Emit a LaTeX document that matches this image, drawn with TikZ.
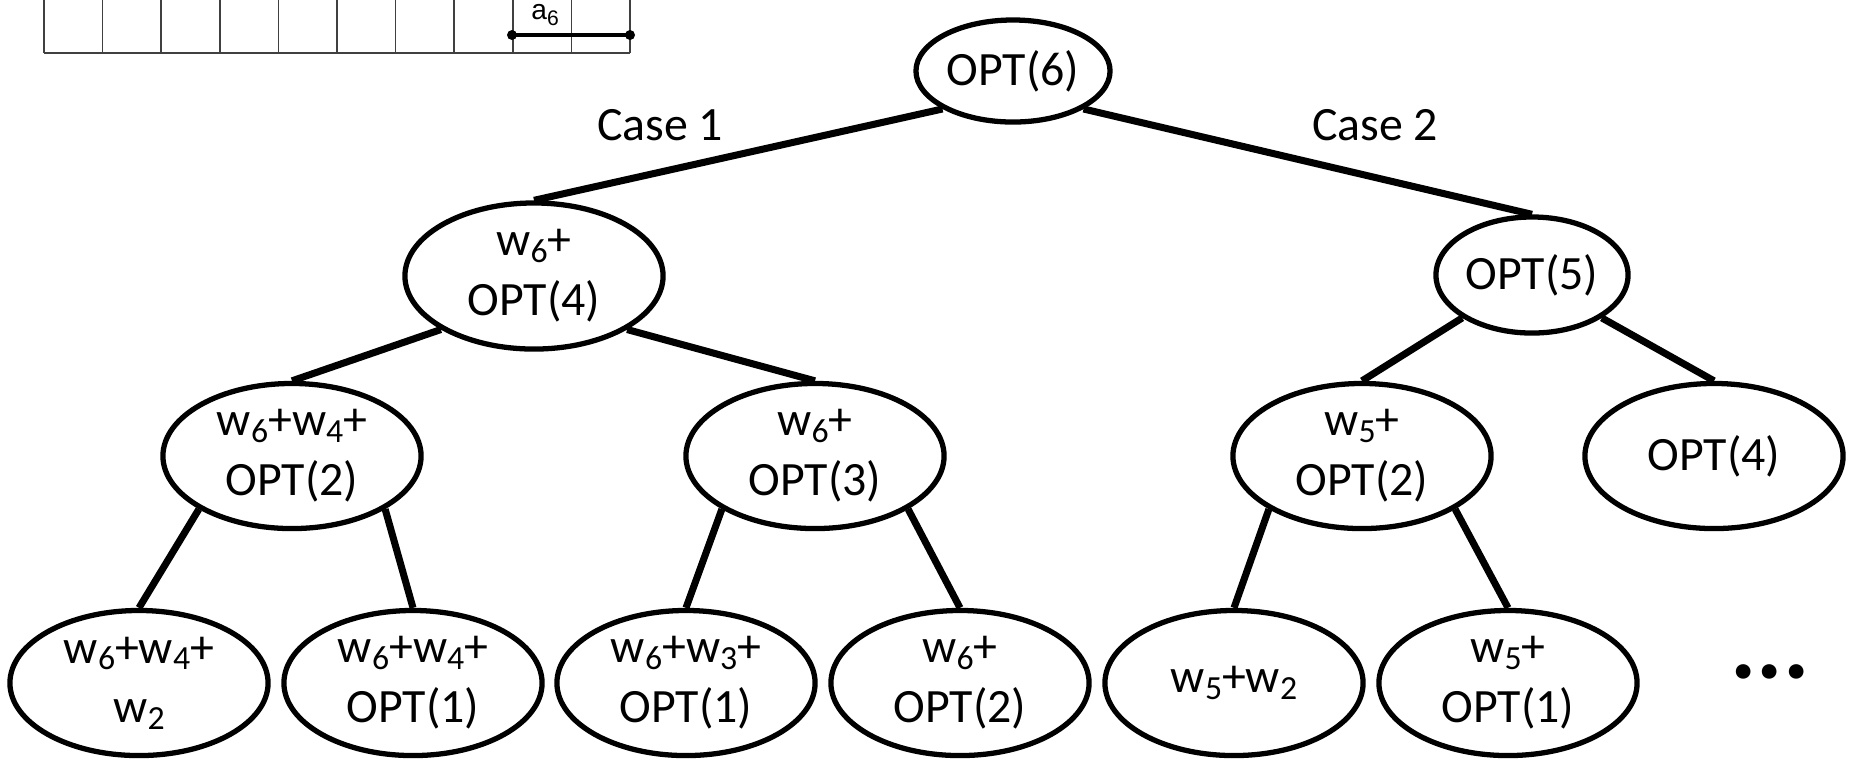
\documentclass[tikz,border=0pt]{standalone}
\usepackage{fontspec}
\setmainfont{Carlito}
\newfontfamily\arialfont{Liberation Sans}
\usetikzlibrary{shapes.geometric}
\newcommand{\sub}[1]{\raisebox{-0.28ex}{\fontsize{9.6}{9.6}\selectfont #1}}
\tikzset{
  opt/.style={draw, ellipse, line width=1.5pt, inner sep=0pt, minimum width=2.58cm, minimum height=1.45cm, align=center, font=\fontsize{13.6}{17}\selectfont},
  branch/.style={line width=2pt},
  cell/.style={black!75, line width=0.5pt}
}
\begin{document}
\begin{tikzpicture}[x=0.01cm, y=-0.01cm]
\useasboundingbox (0,0) rectangle (1852,759);
\foreach \i in {0,...,10}
  \draw[cell] ({44+58.6*\i},0) -- ({44+58.6*\i},53);
\draw[cell] (44,53) -- (630,53);
\coordinate (s6) at (512,35);
\coordinate (e6) at (630,35);
\draw[line width=1.2pt] (s6) -- (e6);
\fill (s6) circle (5) (e6) circle (5);
\node[font=\arialfont\fontsize{8}{8}\selectfont] (a6) at (546,15) {a\textsubscript{6}};

\node[opt, minimum width=1.94cm, minimum height=1.02cm] (opt6) at (1013,71) {OPT(6)};
\node[opt, minimum height=1.46cm] (l4) at (534,276) {w\sub{6}+\\OPT(4)};
\node[opt, minimum width=1.92cm, minimum height=1.16cm] (r5) at (1532,275) {OPT(5)};
\node (case1) at (660,125) {\fontsize{13.6}{17}\selectfont Case 1};
\node (case2) at (1375,125) {\fontsize{13.6}{17}\selectfont Case 2};

\node[opt] (l42) at (292,456) {w\sub{6}+w\sub{4}+\\OPT(2)};
\node[opt] (l3) at (815,456) {w\sub{6}+\\OPT(3)};
\node[opt] (r52) at (1362,456) {w\sub{5}+\\OPT(2)};
\node[opt] (r4) at (1714,456) {OPT(4)};

\node[opt] (n1) at (139,683) {w\sub{6}+w\sub{4}+\\w\sub{2}};
\node[opt] (n2) at (413,683) {w\sub{6}+w\sub{4}+\\OPT(1)};
\node[opt] (n3) at (686,683) {w\sub{6}+w\sub{3}+\\OPT(1)};
\node[opt] (n4) at (960,683) {w\sub{6}+\\OPT(2)};
\node[opt] (n5) at (1234,683) {w\sub{5}+w\sub{2}};
\node[opt] (n6) at (1508,683) {w\sub{5}+\\OPT(1)};
\node[anchor=base, font=\fontsize{28}{28}\selectfont\bfseries] (more) at (1770,678) {...};

\draw[branch] (opt6.south west) -- (l4.north);
\draw[branch] (opt6.south east) -- (r5.north);
\draw[branch] (l4.south west) -- (l42.north);
\draw[branch] (l4.south east) -- (l3.north);
\draw[branch] (r5.south west) -- (r52.north);
\draw[branch] (r5.south east) -- (r4.north);
\draw[branch] (l42.south west) -- (n1.north);
\draw[branch] (l42.south east) -- (n2.north);
\draw[branch] (l3.south west) -- (n3.north);
\draw[branch] (l3.south east) -- (n4.north);
\draw[branch] (r52.south west) -- (n5.north);
\draw[branch] (r52.south east) -- (n6.north);
\end{tikzpicture}
\end{document}
